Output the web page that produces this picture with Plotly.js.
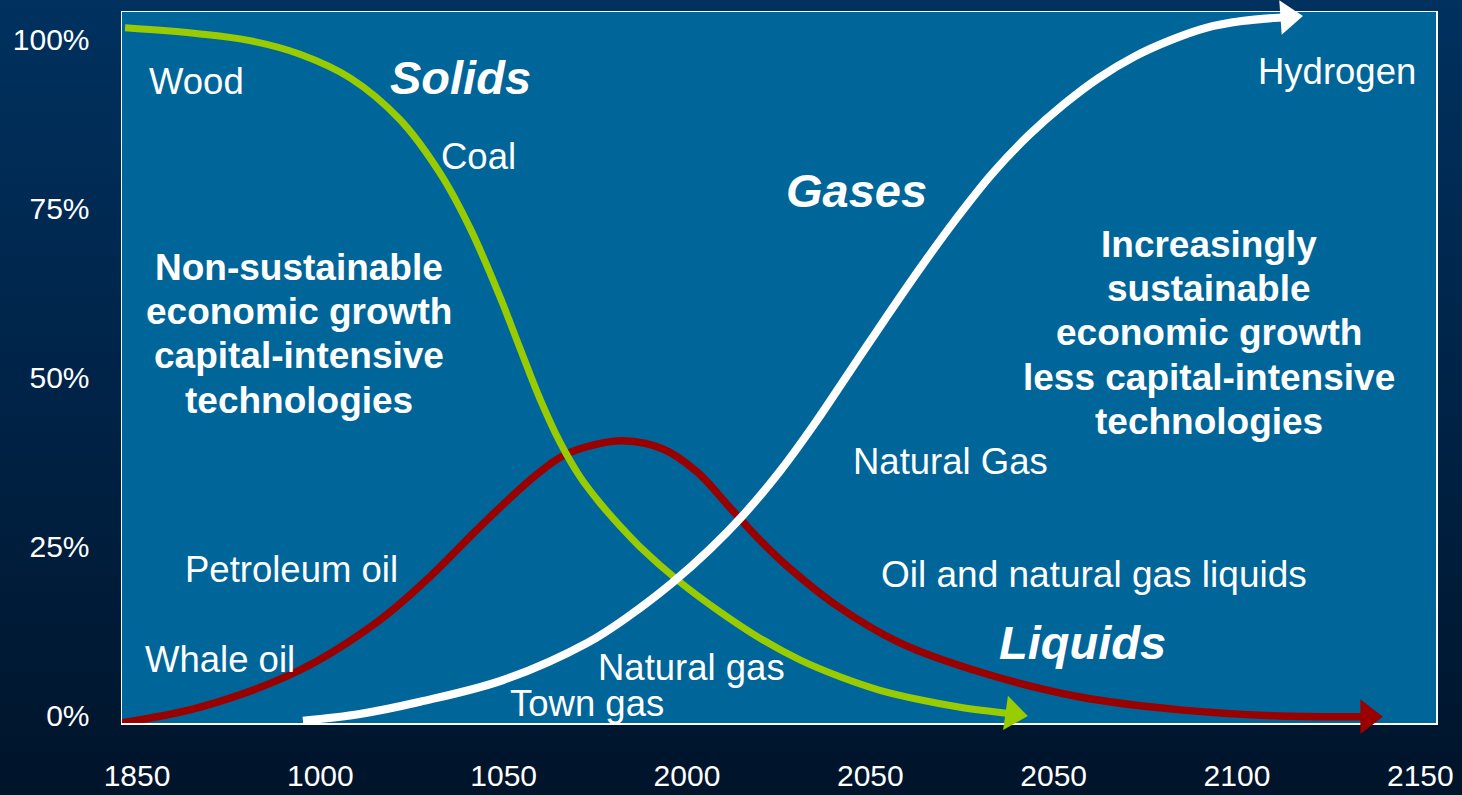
<!DOCTYPE html>
<html>
<head>
<meta charset="utf-8">
<script src="https://cdn.plot.ly/plotly-3.0.1.min.js"></script>
<style>
  html, body { margin: 0; padding: 0; }
  body {
    width: 1462px; height: 795px; overflow: hidden;
    background: linear-gradient(to bottom, #00315f 0%, #002347 50%, #00142a 100%);
  }
  #chart { width: 1462px; height: 795px; }
</style>
</head>
<body>
<div id="chart"></div>
<script>
// Axis ticks (positions on the time axis and their printed labels)
const tickPositions = [0, 1, 2, 3, 4, 5, 6, 7];
const tickLabels = ['1850', '1000', '1050', '2000', '2050', '2050', '2100', '2150'];
const shareTicks = [0, 25, 50, 75, 100];
const shareLabels = ['0%', '25%', '50%', '75%', '100%'];

// Solids: wood, then coal (share of energy, %)
const solidsX = [-0.065, 0.344, 0.616, 0.889, 1.162, 1.435, 1.653, 1.816, 1.980, 2.089, 2.198, 2.307, 2.416, 2.525, 2.635, 2.744, 2.962, 3.180, 3.398, 3.616, 3.835, 4.053, 4.271, 4.489, 4.778];
const solidsShare = [101.8, 100.9, 99.9, 97.9, 94.4, 88.2, 80.3, 72.2, 62.0, 54.4, 46.9, 40.5, 35.4, 31.5, 28.1, 25.0, 19.8, 15.4, 11.5, 8.3, 5.8, 3.8, 2.4, 1.3, 0.3];

// Liquids: whale oil, petroleum oil, oil and natural gas liquids
const liquidsX = [-0.082, 0.344, 0.889, 1.325, 1.598, 1.871, 2.144, 2.324, 2.509, 2.651, 2.869, 3.055, 3.235, 3.398, 3.545, 3.818, 4.162, 4.598, 5.144, 5.689, 6.235, 6.714];
const liquidsShare = [-1.0, 1.3, 6.8, 14.2, 20.6, 28.0, 34.9, 38.5, 40.2, 40.7, 39.5, 36.1, 30.8, 26.0, 22.2, 16.3, 10.8, 6.5, 2.8, 0.9, 0.0, -0.1];

// Gases: town gas, natural gas, hydrogen
const gasesX = [0.905, 1.216, 1.544, 1.996, 2.455, 2.689, 2.924, 3.126, 3.306, 3.507, 3.698, 3.889, 4.080, 4.276, 4.467, 4.664, 4.860, 5.056, 5.247, 5.444, 5.640, 5.831, 6.027, 6.278];
const gasesShare = [-0.7, 0.3, 2.1, 5.3, 10.8, 14.9, 19.8, 24.7, 29.7, 36.2, 43.3, 51.0, 58.7, 66.4, 73.5, 80.2, 85.8, 90.5, 94.4, 97.6, 100.0, 101.8, 102.8, 103.4];

const FONT = 'Arial, "Liberation Sans", Helvetica, sans-serif';
const GREEN = '#99cc00', RED = '#990000', WHITE = '#ffffff';

function curve(x, y, color, width) {
  return {
    type: 'scatter', mode: 'lines', x: x, y: y,
    line: { color: color, width: width, shape: 'spline', smoothing: 1 },
    hoverinfo: 'skip', showlegend: false
  };
}
// Arrowhead sitting on the last point of a curve
function arrowHead(x, y, color, angle) {
  return {
    type: 'scatter', mode: 'markers',
    x: [x[x.length - 1]], y: [y[y.length - 1]],
    marker: { symbol: 'triangle-right', size: 30, color: color, angle: angle, line: { width: 0 } },
    cliponaxis: false, hoverinfo: 'skip', showlegend: false
  };
}

const traces = [
  curve(liquidsX, liquidsShare, RED, 7.5),
  arrowHead(liquidsX, liquidsShare, RED, 0),
  curve(solidsX, solidsShare, GREEN, 7),
  arrowHead(solidsX, solidsShare, GREEN, 8),
  curve(gasesX, gasesShare, WHITE, 8),
  arrowHead(gasesX, gasesShare, WHITE, -4)
];

function label(text, x, y, size, opts) {
  opts = opts || {};
  let t = text;
  if (opts.bold) t = '<b>' + t + '</b>';
  if (opts.italic) t = '<i>' + t + '</i>';
  return {
    x: x, y: y, xref: 'x', yref: 'y', text: t, showarrow: false,
    xanchor: 'center', yanchor: 'middle',
    font: { family: FONT, size: size, color: '#ffffff' }
  };
}

const annotations = [
  label('Wood', 0.322, 93.8, 36.5),
  label('Solids', 1.762, 94.5, 47, { bold: true, italic: true }),
  label('Coal', 1.860, 82.7, 36.5),
  label('Gases', 3.927, 77.8, 47, { bold: true, italic: true }),
  label('Hydrogen', 6.546, 95.3, 36.5),
  label('Non-sustainable', 0.884, 66.3, 37, { bold: true }),
  label('economic growth', 0.884, 59.8, 37, { bold: true }),
  label('capital-intensive', 0.884, 53.3, 37, { bold: true }),
  label('technologies', 0.884, 46.7, 37, { bold: true }),
  label('Increasingly', 5.847, 69.7, 37, { bold: true }),
  label('sustainable', 5.847, 63.2, 37, { bold: true }),
  label('economic growth', 5.847, 56.7, 37, { bold: true }),
  label('less capital-intensive', 5.847, 50.0, 37, { bold: true }),
  label('technologies', 5.847, 43.5, 37, { bold: true }),
  label('Natural Gas', 4.435, 37.6, 36.5),
  label('Oil and natural gas liquids', 5.220, 21.0, 37),
  label('Liquids', 5.160, 10.8, 47, { bold: true, italic: true }),
  label('Petroleum oil', 0.845, 21.6, 36.5),
  label('Whale oil', 0.453, 8.4, 36.5),
  label('Natural gas', 3.022, 7.1, 36.5),
  label('Town gas', 2.455, 1.9, 36.5)
];

const layout = {
  width: 1462, height: 795,
  margin: { l: 122, r: 26, t: 12, b: 72, pad: 0 },
  paper_bgcolor: 'rgba(0,0,0,0)',
  plot_bgcolor: '#006699',
  showlegend: false,
  font: { family: FONT, color: '#ffffff' },
  xaxis: {
    range: [-0.0818, 7.0855], fixedrange: true,
    tickmode: 'array', tickvals: tickPositions, ticktext: tickLabels,
    tickfont: { family: FONT, size: 30, color: '#ffffff' },
    ticks: '', ticklabelstandoff: 25,
    showgrid: false, zeroline: false,
    showline: true, mirror: 'all', linecolor: '#ffffff', linewidth: 1.5,
    layer: 'below traces'
  },
  yaxis: {
    range: [-1.04, 104.14], fixedrange: true,
    tickmode: 'array', tickvals: shareTicks, ticktext: shareLabels,
    tickfont: { family: FONT, size: 30, color: '#ffffff' },
    ticks: '', ticklabelstandoff: 25,
    showgrid: false, zeroline: false,
    showline: true, mirror: 'all', linecolor: '#ffffff', linewidth: 1.5,
    layer: 'below traces'
  },
  annotations: annotations
};

Plotly.newPlot('chart', traces, layout, { staticPlot: true, displayModeBar: false });
</script>
</body>
</html>
